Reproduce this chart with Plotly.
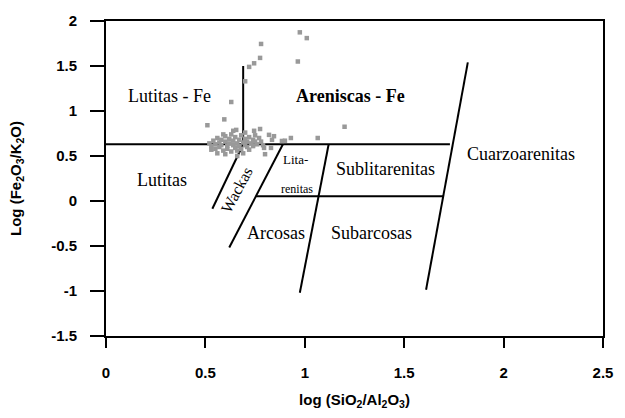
import plotly.graph_objects as go

# Sample geochemistry: log(SiO2/Al2O3) vs log(Fe2O3/K2O)
sample_x = [0.975, 1.01, 0.78, 0.775, 0.745, 0.72, 0.965, 0.70, 0.63, 0.595, 0.51,
            0.655, 0.745, 0.775, 1.20, 1.065, 0.90, 0.93, 0.82, 0.845, 0.835, 0.885,
            0.795, 0.80, 0.83,
            0.52, 0.53, 0.54, 0.55, 0.55, 0.56, 0.57, 0.57, 0.58, 0.58, 0.59, 0.60,
            0.60, 0.61, 0.61, 0.62, 0.62, 0.63, 0.63, 0.64, 0.64, 0.65, 0.65, 0.66,
            0.66, 0.67, 0.67, 0.68, 0.68, 0.69, 0.69, 0.70, 0.70, 0.71, 0.71, 0.72,
            0.72, 0.73, 0.74, 0.74, 0.75, 0.76, 0.77, 0.78, 0.79, 0.56, 0.60, 0.66,
            0.53, 0.59, 0.70, 0.64, 0.75]
sample_y = [1.874, 1.81, 1.745, 1.59, 1.53, 1.49, 1.55, 1.33, 1.10, 0.907, 0.842,
            0.79, 0.78, 0.80, 0.825, 0.70, 0.67, 0.70, 0.735, 0.72, 0.68, 0.667,
            0.59, 0.52, 0.59,
            0.64, 0.61, 0.67, 0.63, 0.58, 0.70, 0.65, 0.60, 0.68, 0.62, 0.56, 0.66,
            0.72, 0.61, 0.58, 0.69, 0.64, 0.55, 0.74, 0.62, 0.67, 0.59, 0.71, 0.64,
            0.56, 0.68, 0.61, 0.73, 0.58, 0.65, 0.53, 0.62, 0.69, 0.60, 0.66, 0.71,
            0.57, 0.64, 0.68, 0.61, 0.66, 0.63, 0.70, 0.66, 0.62, 0.53, 0.52, 0.50,
            0.57, 0.74, 0.76, 0.78, 0.73]

# Field boundaries (Herron-type classification)
boundaries = {
    "upper_horizontal": ([0.0, 1.73], [0.63, 0.63]),
    "fe_divider": ([0.69, 0.69], [0.63, 1.5]),
    "wacke_left": ([0.69, 0.535], [0.63, -0.086]),
    "wacke_right": ([0.89, 0.62], [0.63, -0.516]),
    "lithic_divider": ([1.12, 0.975], [0.63, -1.02]),
    "quartz_divider": ([1.82, 1.61], [1.54, -0.986]),
    "lower_horizontal": ([0.754, 1.696], [0.054, 0.054]),
}

# Field labels: (text, x, y, size, angle, bold)
field_labels = [
    ("Lutitas - Fe", 0.32, 1.17, 18, 0, False),
    ("Areniscas - Fe", 1.23, 1.17, 18, 0, True),
    ("Lutitas", 0.28, 0.237, 18, 0, False),
    ("Wackas", 0.655, 0.12, 16, -62, False),
    ("Lita-", 0.955, 0.46, 13, 0, False),
    ("renitas", 0.96, 0.13, 12, 0, False),
    ("Sublitarenitas", 1.405, 0.355, 18, 0, False),
    ("Cuarzoarenitas", 2.085, 0.527, 18, 0, False),
    ("Arcosas", 0.855, -0.355, 18, 0, False),
    ("Subarcosas", 1.335, -0.355, 18, 0, False),
]

x_ticks = [0, 0.5, 1, 1.5, 2, 2.5]
x_tick_text = ["0", "0.5", "1", "1.5", "2", "2.5"]
y_ticks = [-1.5, -1, -0.5, 0, 0.5, 1, 1.5, 2]
y_tick_text = ["-1.5", "-1", "-0.5", "0", "0.5", "1", "1.5", "2"]

fig = go.Figure()

for name, (bx, by) in boundaries.items():
    fig.add_trace(go.Scatter(x=bx, y=by, mode="lines", name=name,
                             line=dict(color="black", width=2), hoverinfo="skip"))

fig.add_trace(go.Scatter(x=sample_x, y=sample_y, mode="markers", name="muestras",
                         marker=dict(symbol="square", size=4.5, color="#999999",
                                     line=dict(width=0))))

for text, lx, ly, size, angle, bold in field_labels:
    fig.add_annotation(x=lx, y=ly, xref="x", yref="y", showarrow=False,
                       text=f"<b>{text}</b>" if bold else text, textangle=angle,
                       font=dict(family="Liberation Serif, Times New Roman, serif",
                                 size=size, color="black"))

sans = "Liberation Sans, Arial, sans-serif"
fig.update_xaxes(range=[0, 2.5], tickmode="array", tickvals=x_ticks, ticktext=x_tick_text,
                 showgrid=False, zeroline=False, showline=True, mirror=True,
                 linecolor="black", linewidth=2, ticks="outside", ticklen=10,
                 tickwidth=2, tickcolor="black", ticklabelstandoff=12,
                 tickfont=dict(family=sans, size=15, color="black", weight="bold"),
                 title=dict(text="log (SiO<sub>2</sub>/Al<sub>2</sub>O<sub>3</sub>)",
                            font=dict(family=sans, size=15, color="black", weight="bold"),
                            standoff=14))
fig.update_yaxes(range=[-1.5, 2], tickmode="array", tickvals=y_ticks, ticktext=y_tick_text,
                 showgrid=False, zeroline=False, showline=True, mirror=True,
                 linecolor="black", linewidth=2, ticks="outside", ticklen=14,
                 tickwidth=2, tickcolor="black", ticklabelstandoff=10,
                 tickfont=dict(family=sans, size=15, color="black", weight="bold"),
                 title=dict(text="Log (Fe<sub>2</sub>O<sub>3</sub>/K<sub>2</sub>O)",
                            font=dict(family=sans, size=15, color="black", weight="bold"),
                            standoff=26))

fig.update_layout(width=625, height=418, margin=dict(l=106, r=19, t=19, b=75),
                  paper_bgcolor="white", plot_bgcolor="white", showlegend=False)

fig.write_html("out.html")
